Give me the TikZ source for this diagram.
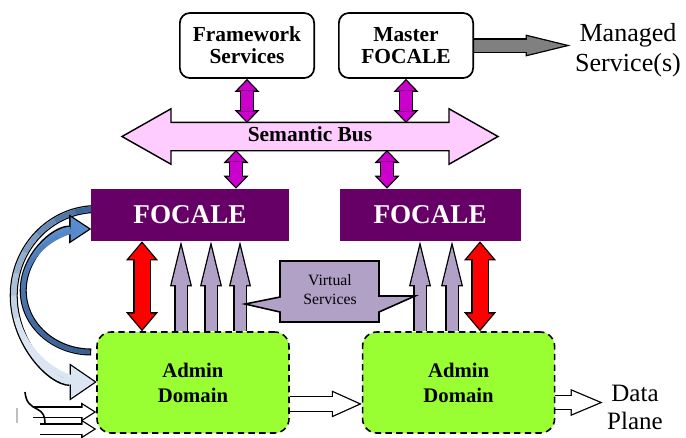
\documentclass[tikz,border=0pt]{standalone}
\usepackage{fontspec}
\setmainfont{Liberation Serif}
\usepackage{tikz}
\usetikzlibrary{shapes,shapes.arrows,arrows.meta,positioning,calc}
\pgfdeclarelayer{background}
\pgfsetlayers{background,main}

\definecolor{focale}{HTML}{660066}
\definecolor{buspink}{HTML}{FFCCFF}
\definecolor{busmag}{HTML}{CC00CC}
\definecolor{virt}{HTML}{B2A1C7}
\definecolor{admin}{HTML}{99FF33}
\definecolor{mgd}{HTML}{808080}
\definecolor{loopdark}{HTML}{3A659C}
\definecolor{looplight}{HTML}{DCE6F2}
\definecolor{backdark}{HTML}{3A5F92}
\definecolor{backmid}{HTML}{5A8BCB}

\tikzstyle{topbox} = [rectangle, rounded corners=7pt, draw=black, line width=1.2pt, minimum width=94pt, minimum height=45.5pt, align=center, inner sep=0pt, font=\bfseries\fontsize{15}{15.4}\selectfont]
\tikzstyle{focbox} = [rectangle, fill=focale, minimum height=36.4pt, inner sep=0pt, text=white, font=\bfseries\fontsize{19}{22}\selectfont]
\tikzstyle{admbox} = [rectangle, rounded corners=10pt, draw=black, line width=1.1pt, dash pattern=on 4.5pt off 3pt, fill=admin, minimum width=134.4pt, minimum height=70.7pt, align=center, inner sep=0pt, font=\bfseries\fontsize{14.5}{17.5}\selectfont]
\tikzstyle{semabus} = [double arrow, draw=black, line width=1pt, fill=buspink, double arrow tip angle=59, double arrow head extend=9.45pt, minimum height=263.2pt, text height=10pt, text depth=3pt, inner xsep=0pt, inner ysep=2.95pt, font=\bfseries\fontsize{15}{18}\selectfont]
\tikzstyle{plaintext} = [align=center, inner sep=3pt]

% outline of the block arrows
\def\blkt{0.9}
\newcommand{\tipcalc}[2]{%
  \pgfmathsetmacro\tipL{0.7*#1}%
  \pgfmathsetmacro\tipW{0.7*#2}%
  \pgfmathsetmacro\tipR{\tipL*\tipW/2/(\tipW/2+sqrt(\tipL*\tipL+\tipW*\tipW/4))}%
  \pgfmathsetmacro\tipD{(\tipL-\tipR)*\blkt/\tipR}%
  \pgfmathsetmacro\tipLi{\tipL*(\tipR-\blkt)/\tipR}%
  \pgfmathsetmacro\tipWi{\tipW*(\tipR-\blkt)/\tipR}%
}
% colour, shaft, head length, head width, heads, from, to
\newcommand{\blockarrow}[7]{%
  \tipcalc{#3}{#4}%
  \pgfmathsetmacro\shI{0.7*#2}%
  \pgfmathsetmacro\shO{\shI+2*\blkt}%
  \ifnum#5=2
    \draw [line width=\shO pt, {Triangle[length=\tipL pt,width=\tipW pt,line width=0pt]}-{Triangle[length=\tipL pt,width=\tipW pt,line width=0pt]}] (#6) -- (#7);
    \draw [line width=\shI pt, #1, shorten <=\tipD pt, shorten >=\tipD pt, {Triangle[length=\tipLi pt,width=\tipWi pt,line width=0pt]}-{Triangle[length=\tipLi pt,width=\tipWi pt,line width=0pt]}] (#6) -- (#7);
  \else
    \draw [line width=\shO pt, -{Triangle[length=\tipL pt,width=\tipW pt,line width=0pt]}] (#6) -- (#7);
    \draw [line width=\shI pt, #1, shorten >=\tipD pt, -{Triangle[length=\tipLi pt,width=\tipWi pt,line width=0pt]}] (#6) -- (#7);
  \fi}

\begin{document}
\begin{tikzpicture}[x=0.7pt, y=-0.7pt]
\useasboundingbox (0,0) rectangle (686,437);

\node (fw) [topbox] at (247,45.5) {Framework\\Services};
\node (master) [topbox, right=16.1pt of fw] {Master\\FOCALE};
\node (managed) [plaintext, font=\fontsize{18.25}{21}\selectfont] at (628,50) {Managed\\Service(s)};
\node (bus) [semabus] at (310,136.5) {Semantic Bus};
\node (focL) [focbox, minimum width=138.6pt] at (190,215) {FOCALE};
\node (focR) [focbox, minimum width=126.7pt, right=35pt of focL] {FOCALE};
\node (adL) [admbox] at (193,382.5) {Admin\\Domain};
\node (adR) [admbox, right=50.4pt of adL] {Admin\\Domain};
\node (data) [plaintext, font=\fontsize{17.5}{19.6}\selectfont] at (635,407.5) {Data\\Plane};

% virtual services callout
\draw [fill=virt, line width=1.1pt] (280,261) -- (379,261) -- (379,296) -- (415,296) -- (379,312) -- (379,322) -- (280,322) -- (280,312) -- (245,304) -- (280,297) -- cycle;
\node (vs) [plaintext, font=\fontsize{11}{13.3}\selectfont] at (330,290) {Virtual\\Services};

\coordinate (bustop) at ([yshift=9.45pt]bus.center);
\coordinate (busbot) at ([yshift=-9.45pt]bus.center);
\coordinate (da) at ([yshift=-15pt]adL.east);
\coordinate (dp) at ([yshift=-14pt]adR.east);
\coordinate (in1) at (33,412);
\coordinate (in2) at (40,429);

\begin{pgfonlayer}{background}
\blockarrow{busmag}{12}{13}{25}{2}{fw.south}{fw.south |- bustop}
\blockarrow{busmag}{12}{13}{25}{2}{master.south}{master.south |- bustop}
\blockarrow{busmag}{12}{13}{25}{2}{236,0 |- busbot}{236,0 |- focL.north}
\blockarrow{busmag}{12}{13}{25}{2}{387,0 |- busbot}{387,0 |- focR.north}
\blockarrow{mgd}{12}{45}{22}{1}{master.east}{master.east -| managed.west}
\blockarrow{red}{15}{19}{32}{2}{142,0 |- focL.south}{142,0 |- adL.north}
\blockarrow{red}{15}{19}{32}{2}{480,0 |- focR.south}{480,0 |- adR.north}
\foreach \x in {181,211,240}
  {\blockarrow{virt}{11}{45}{22}{1}{\x,0 |- adL.north}{\x,0 |- focL.south}}
\foreach \x in {420,452}
  {\blockarrow{virt}{11}{45}{22}{1}{\x,0 |- adR.north}{\x,0 |- focR.south}}
\blockarrow{white}{14}{30}{27}{1}{da}{da -| adR.west}
\blockarrow{white}{13}{32}{27}{1}{dp}{dp -| data.west}
\blockarrow{white}{9}{15}{19}{1}{in1}{in1 -| adL.west}
\blockarrow{white}{9}{15}{19}{1}{in2}{in2 -| adL.west}

% loop from FOCALE down to the domain
\coordinate (bS) at ([xshift=4.2pt,yshift=4.2pt]focL.west);
\coordinate (cB) at ([yshift=-60.55pt]bS);
\tipcalc{27}{37}
\draw [line width=5.6pt, -{Triangle[length=\tipL pt,width=\tipW pt,line width=0pt]}] (bS) arc [start angle=270, end angle=90, x radius=83, y radius=86.5];
\draw [line width=3.8pt, looplight, shorten >=\tipD pt, -{Triangle[length=\tipLi pt,width=\tipWi pt,line width=0pt]}] (bS) arc [start angle=270, end angle=90, x radius=83, y radius=86.5];
\foreach \i in {0,...,10} {
  \pgfmathsetmacro\aS{270-15*\i}
  \pgfmathtruncatemacro\p{max(0,100-14*\i)}
  \draw [line width=3.8pt, loopdark!\p!looplight] ([shift={(\aS:83 and 86.5)}]cB) arc [start angle=\aS, delta angle=-15.5, x radius=83, y radius=86.5];
}

% loop back from the domain up to FOCALE
\coordinate (backS) at ([xshift=-3.5pt,yshift=21.35pt]adL.west);
\coordinate (cA) at ([yshift=43.05pt]backS);
\tipcalc{22}{29}
\draw [line width=4.9pt, -{Triangle[length=\tipL pt,width=\tipW pt,line width=0pt]}] (backS) arc [start angle=90, end angle=270, x radius=68, y radius=61.5];
\draw [line width=3.1pt, backmid, shorten <=\blkt pt, shorten >=\tipD pt, -{Triangle[length=\tipLi pt,width=\tipWi pt,line width=0pt]}] (backS) arc [start angle=90, end angle=270, x radius=68, y radius=61.5];
\foreach \i in {0,...,10} {
  \pgfmathsetmacro\aS{91+15*\i}
  \pgfmathtruncatemacro\p{100-9*\i}
  \draw [line width=3.1pt, backdark!\p!backmid] ([shift={(\aS:68 and 61.5)}]cA) arc [start angle=\aS, delta angle=15.5, x radius=68, y radius=61.5];
}
\end{pgfonlayer}

\draw [line width=1.1pt] (25,392) .. controls (26,403) and (31,406) .. (37,409) .. controls (43,412) and (45,416) .. (45,423);
\draw [black!25, line width=0.8pt] (17,408) -- (17,423);
\end{tikzpicture}
\end{document}
